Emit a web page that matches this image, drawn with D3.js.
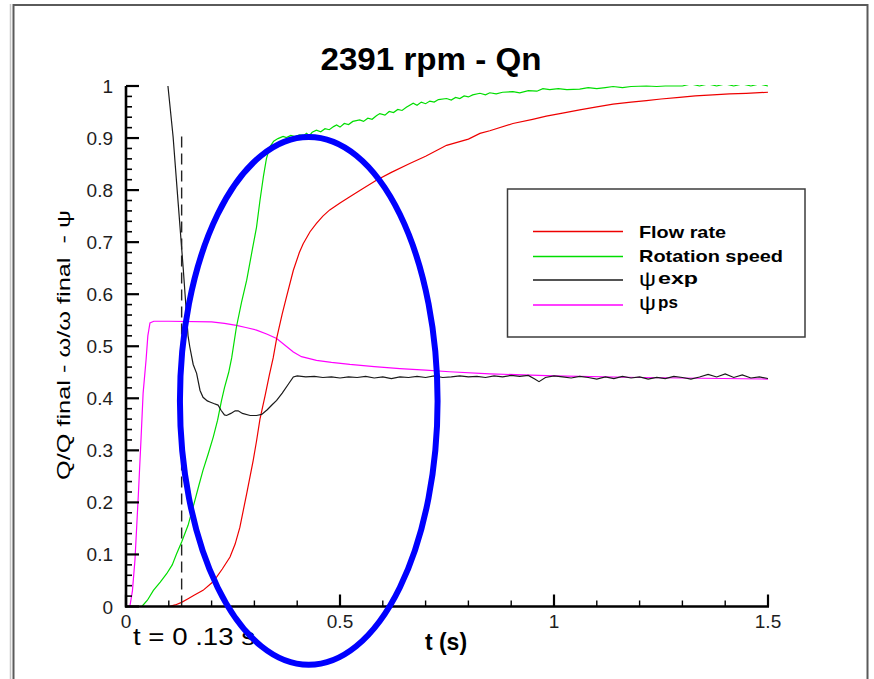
<!DOCTYPE html>
<html>
<head>
<meta charset="utf-8">
<script src="https://cdn.jsdelivr.net/npm/d3@7"></script>
<style>
  html, body { margin: 0; padding: 0; background: #fff; }
  svg { display: block; font-family: "Liberation Sans", Arial, sans-serif; }
  text { white-space: pre; }
</style>
</head>
<body>
<svg id="chart" width="874" height="679"></svg>
<script>
// ---- Series: time (s) and normalised values ----
const flowT = [0.100,0.115,0.130,0.145,0.160,0.180,0.200,0.212,0.225,0.243,0.255,0.266,0.282,0.297,0.305,0.313,0.325,0.335,0.344,0.352,0.365,0.375,0.391,0.405,0.414,0.430,0.445,0.460,0.476,0.500,0.523,0.550,0.585,0.620,0.663,0.700,0.749,0.800,0.827,0.850,0.904,0.950,0.982,1.020,1.060,1.100,1.138,1.180,1.216,1.250,1.293,1.330,1.371,1.410,1.449,1.500];
const flowQ = [0.000,0.003,0.008,0.015,0.022,0.031,0.045,0.057,0.072,0.095,0.120,0.152,0.217,0.280,0.318,0.360,0.405,0.445,0.478,0.515,0.562,0.595,0.646,0.680,0.697,0.720,0.736,0.750,0.762,0.775,0.787,0.801,0.819,0.834,0.851,0.865,0.886,0.898,0.909,0.914,0.928,0.936,0.942,0.948,0.954,0.960,0.965,0.969,0.972,0.975,0.978,0.981,0.983,0.985,0.986,0.988];

const speedT = [0.037,0.050,0.064,0.080,0.095,0.108,0.118,0.130,0.145,0.161,0.170,0.180,0.192,0.204,0.214,0.223,0.230,0.240,0.247,0.258,0.270,0.282,0.295,0.305,0.313,0.321,0.328,0.336,0.345,0.355,0.367,0.375,0.385,0.395,0.405,0.415,0.422,0.428,0.435,0.445,0.455,0.465,0.475,0.485,0.492,0.500,0.510,0.520,0.530,0.546,0.555,0.565,0.575,0.585,0.593,0.605,0.615,0.625,0.635,0.645,0.655,0.671,0.680,0.690,0.700,0.710,0.720,0.730,0.749,0.760,0.770,0.780,0.790,0.800,0.810,0.827,0.840,0.850,0.865,0.880,0.904,0.920,0.940,0.960,0.974,0.990,1.010,1.030,1.060,1.080,1.100,1.120,1.138,1.160,1.180,1.216,1.240,1.260,1.280,1.300,1.320,1.340,1.360,1.380,1.400,1.420,1.440,1.460,1.480,1.500];
const speedW = [0.000,0.012,0.031,0.047,0.063,0.080,0.101,0.124,0.156,0.204,0.232,0.262,0.293,0.326,0.358,0.395,0.420,0.450,0.478,0.537,0.585,0.627,0.685,0.729,0.780,0.826,0.860,0.883,0.894,0.899,0.903,0.901,0.905,0.903,0.906,0.905,0.909,0.904,0.911,0.915,0.912,0.918,0.916,0.922,0.925,0.921,0.928,0.926,0.932,0.935,0.932,0.938,0.936,0.943,0.947,0.944,0.951,0.949,0.955,0.953,0.959,0.967,0.963,0.969,0.966,0.971,0.969,0.974,0.976,0.973,0.978,0.976,0.981,0.979,0.983,0.986,0.983,0.987,0.985,0.988,0.989,0.987,0.991,0.990,0.995,0.993,0.995,0.993,0.994,0.997,0.995,0.997,0.999,0.997,0.999,1.000,0.999,1.000,1.000,1.000,1.004,1.000,1.004,1.000,1.004,1.000,1.004,1.000,1.004,1.000];

const psiExpT = [0.098,0.110,0.122,0.134,0.138,0.145,0.149,0.157,0.165,0.173,0.180,0.190,0.196,0.205,0.215,0.222,0.230,0.235,0.245,0.255,0.262,0.272,0.290,0.305,0.317,0.330,0.342,0.352,0.365,0.380,0.391,0.400,0.420,0.440,0.460,0.480,0.500,0.520,0.540,0.560,0.580,0.600,0.620,0.640,0.660,0.680,0.700,0.720,0.740,0.760,0.780,0.800,0.820,0.840,0.860,0.880,0.900,0.920,0.940,0.955,0.965,0.980,1.000,1.020,1.040,1.060,1.080,1.100,1.120,1.140,1.160,1.180,1.200,1.220,1.240,1.260,1.280,1.300,1.320,1.340,1.360,1.380,1.400,1.420,1.440,1.460,1.480,1.500];
const psiExp = [1.000,0.903,0.774,0.646,0.600,0.520,0.499,0.465,0.448,0.415,0.402,0.395,0.393,0.390,0.387,0.377,0.368,0.367,0.371,0.376,0.376,0.371,0.367,0.367,0.369,0.378,0.388,0.396,0.410,0.428,0.441,0.443,0.441,0.442,0.440,0.441,0.439,0.441,0.440,0.442,0.439,0.441,0.438,0.441,0.440,0.442,0.440,0.443,0.440,0.441,0.443,0.441,0.442,0.440,0.443,0.441,0.444,0.442,0.444,0.437,0.432,0.440,0.443,0.441,0.439,0.442,0.440,0.437,0.441,0.438,0.442,0.439,0.441,0.437,0.440,0.438,0.442,0.440,0.437,0.441,0.446,0.441,0.447,0.440,0.445,0.439,0.441,0.438];

const psiPsT = [0.009,0.015,0.021,0.029,0.035,0.040,0.047,0.051,0.056,0.065,0.100,0.200,0.230,0.258,0.280,0.305,0.330,0.352,0.370,0.391,0.410,0.445,0.480,0.523,0.580,0.640,0.700,0.756,0.850,1.000,1.200,1.500];
const psiPs = [0.000,0.030,0.090,0.217,0.320,0.410,0.475,0.520,0.545,0.548,0.548,0.547,0.544,0.540,0.536,0.531,0.523,0.515,0.503,0.489,0.480,0.473,0.469,0.465,0.461,0.457,0.454,0.451,0.447,0.443,0.440,0.437];

// ---- Axis ticks and labels ----
const xMajorTicks = [0, 0.5, 1, 1.5];
const xTickLabels = ["0", "0.5", "1", "1.5"];
const yMajorTicks = [0,0.1,0.2,0.3,0.4,0.5,0.6,0.7,0.8,0.9,1];
const yTickLabels = ["0","0.1","0.2","0.3","0.4","0.5","0.6","0.7","0.8","0.9","1"];

// ---- Annotations ----
const markerTime = 0.13;     // vertical dashed line
const markerTop = 0.906;
const ringCenter = [0.427, 0.395];   // highlighted region (t, value)
const ringRadii = [0.301, 0.507];

const seriesNames = ["Flow rate", "Rotation speed"];

const svg = d3.select("#chart");

const x = d3.scaleLinear().domain([0, 1.5]).range([126, 768]);
const y = d3.scaleLinear().domain([0, 1]).range([606.5, 86]);

// outer frame
svg.append("line").attr("x1", 10.5).attr("x2", 10.5).attr("y1", 4).attr("y2", 679)
  .attr("stroke", "#c8c8c8").attr("stroke-width", 1.5);
svg.append("rect").attr("x", 13.5).attr("y", 5).attr("width", 854).attr("height", 700)
  .attr("fill", "none").attr("stroke", "#5a5a5a").attr("stroke-width", 2);

// title
svg.append("text").attr("x", 431).attr("y", 70).attr("text-anchor", "middle")
  .attr("font-size", 31).attr("font-weight", "bold").attr("fill", "#000")
  .attr("textLength", 221).attr("lengthAdjust", "spacingAndGlyphs")
  .text("2391 rpm - Qn");

// clip for the data
svg.append("defs").append("clipPath").attr("id", "plotClip")
  .append("rect").attr("x", x(0)).attr("y", y(1) - 1)
  .attr("width", x(1.5) - x(0)).attr("height", y(0) - y(1) + 1);

const line = d3.line().x(d => x(d[0])).y(d => y(d[1]));
const zip = (a, b) => a.map((v, i) => [v, b[i]]);

const plot = svg.append("g").attr("clip-path", "url(#plotClip)");
const series = [
  { data: zip(psiPsT, psiPs), color: "#ff00ff" },
  { data: zip(flowT, flowQ), color: "#ee0000" },
  { data: zip(speedT, speedW), color: "#00dd00" },
  { data: zip(psiExpT, psiExp), color: "#1a1a1a" }
];
series.forEach(s => {
  plot.append("path").attr("d", line(s.data)).attr("fill", "none")
    .attr("stroke", s.color).attr("stroke-width", 1.2);
});

// dashed marker
svg.append("line").attr("x1", x(markerTime)).attr("x2", x(markerTime))
  .attr("y1", y(0)).attr("y2", y(markerTop))
  .attr("stroke", "#222").attr("stroke-width", 1.4).attr("stroke-dasharray", "11,6");

// axes
const axes = svg.append("g").attr("stroke", "#000");
axes.append("line").attr("x1", x(0)).attr("x2", x(0)).attr("y1", y(0) + 1).attr("y2", y(1))
  .attr("stroke-width", 2.6);
axes.append("line").attr("x1", x(0) - 1).attr("x2", x(1.5) + 1).attr("y1", y(0)).attr("y2", y(0))
  .attr("stroke-width", 2.6);

const yMinor = d3.range(0, 51).map(i => i / 50).filter(v => Math.round(v * 50) % 5 !== 0);
const xMinor = d3.range(0, 16).map(i => i / 10).filter(v => Math.round(v * 10) % 5 !== 0);

axes.selectAll(".ymaj").data(yMajorTicks).join("line")
  .attr("x1", x(0)).attr("x2", x(0) + 13).attr("y1", d => y(d)).attr("y2", d => y(d))
  .attr("stroke-width", 2.2);
axes.selectAll(".ymin").data(yMinor).join("line")
  .attr("x1", x(0)).attr("x2", x(0) + 6).attr("y1", d => y(d)).attr("y2", d => y(d))
  .attr("stroke-width", 1.6);
axes.selectAll(".xmaj").data(xMajorTicks).join("line")
  .attr("x1", d => x(d)).attr("x2", d => x(d)).attr("y1", y(0)).attr("y2", y(0) - 12)
  .attr("stroke-width", 2.2);
axes.selectAll(".xmin").data(xMinor).join("line")
  .attr("x1", d => x(d)).attr("x2", d => x(d)).attr("y1", y(0)).attr("y2", y(0) - 6)
  .attr("stroke-width", 1.4);

// tick labels
svg.selectAll(".ylab").data(yMajorTicks).join("text")
  .attr("x", 113).attr("y", d => y(d) + 7).attr("text-anchor", "end")
  .attr("font-size", 19).attr("fill", "#1e1e1e")
  .text((d, i) => yTickLabels[i]);
svg.selectAll(".xlab").data(xMajorTicks).join("text")
  .attr("x", d => x(d)).attr("y", 628).attr("text-anchor", "middle")
  .attr("font-size", 19).attr("fill", "#1e1e1e")
  .text((d, i) => xTickLabels[i]);

// axis titles
svg.append("text").attr("transform", "translate(70,345) rotate(-90)")
  .attr("text-anchor", "middle").attr("font-size", 18).attr("fill", "#000")
  .attr("textLength", 270).attr("lengthAdjust", "spacingAndGlyphs")
  .text("Q/Q final - ω/ω final  - ψ");
svg.append("text").attr("x", 446).attr("y", 650).attr("text-anchor", "middle")
  .attr("font-size", 23).attr("font-weight", "bold").attr("fill", "#000")
  .text("t (s)");
svg.append("text").attr("x", 133).attr("y", 645)
  .attr("font-size", 24).attr("fill", "#000")
  .attr("textLength", 122).attr("lengthAdjust", "spacingAndGlyphs")
  .text("t = 0 .13 s");

// legend
const lg = svg.append("g");
lg.append("rect").attr("x", 507.5).attr("y", 189).attr("width", 297.5).attr("height", 148)
  .attr("fill", "#fff").attr("stroke", "#3c3c3c").attr("stroke-width", 1.5);
const legendRows = [
  { y: 231.5, color: "#ee0000" },
  { y: 256.5, color: "#00dd00" },
  { y: 280, color: "#1a1a1a" },
  { y: 305, color: "#ff00ff" }
];
lg.selectAll(".lline").data(legendRows).join("line")
  .attr("x1", 533).attr("x2", 623).attr("y1", d => d.y).attr("y2", d => d.y)
  .attr("stroke", d => d.color).attr("stroke-width", 1.5);
lg.append("text").attr("x", 639).attr("y", 237.5).attr("font-size", 17).attr("font-weight", "bold")
  .attr("textLength", 87).attr("lengthAdjust", "spacingAndGlyphs").text(seriesNames[0]);
lg.append("text").attr("x", 639).attr("y", 262).attr("font-size", 17).attr("font-weight", "bold")
  .attr("textLength", 144).attr("lengthAdjust", "spacingAndGlyphs").text(seriesNames[1]);
lg.append("text").attr("x", 639).attr("y", 286).attr("font-size", 21)
  .attr("textLength", 17).attr("lengthAdjust", "spacingAndGlyphs").text("ψ");
lg.append("text").attr("x", 658).attr("y", 284).attr("font-size", 17).attr("font-weight", "bold")
  .attr("textLength", 40).attr("lengthAdjust", "spacingAndGlyphs").text("exp");
lg.append("text").attr("x", 639).attr("y", 310).attr("font-size", 21)
  .attr("textLength", 17).attr("lengthAdjust", "spacingAndGlyphs").text("ψ");
lg.append("text").attr("x", 658).attr("y", 308).attr("font-size", 17).attr("font-weight", "bold")
  .text("ps");

// highlight ring
svg.append("ellipse")
  .attr("cx", x(ringCenter[0])).attr("cy", y(ringCenter[1]))
  .attr("rx", x(ringCenter[0] + ringRadii[0]) - x(ringCenter[0]))
  .attr("ry", y(ringCenter[1]) - y(ringCenter[1] + ringRadii[1]))
  .attr("fill", "none").attr("stroke", "#0000ff").attr("stroke-width", 6);
</script>
</body>
</html>
